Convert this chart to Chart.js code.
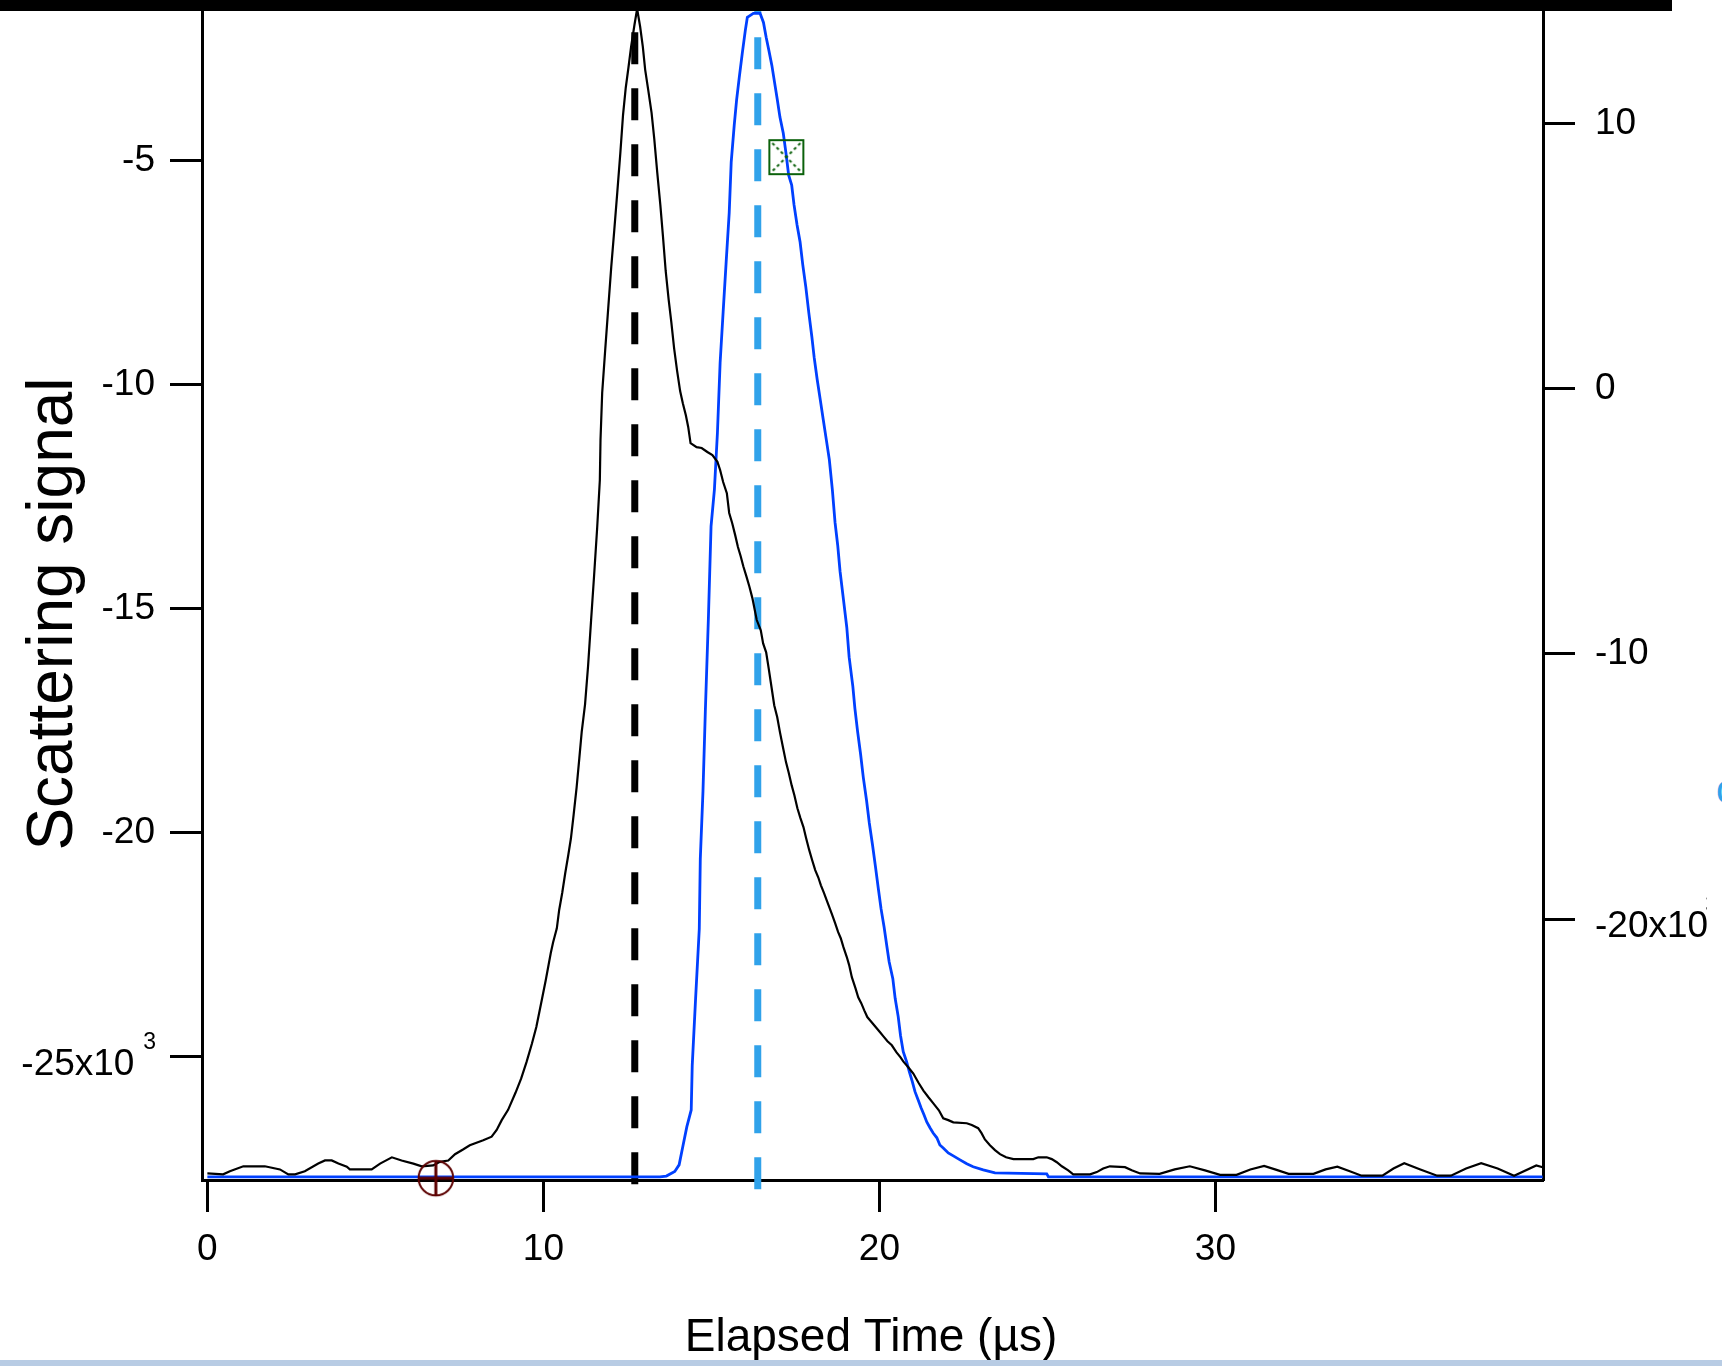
<!DOCTYPE html>
<html>
<head>
<meta charset="utf-8">
<title>Scattering signal</title>
<script src="https://cdn.jsdelivr.net/npm/chart.js@4.4.1/dist/chart.umd.min.js"></script>
<style>
  html, body { margin: 0; padding: 0; background: #fff; width: 1722px; height: 1366px; overflow: hidden; }
  #wrap { position: absolute; left: 0; top: 0; width: 1707px; height: 1360px; }
  #topbar { position: absolute; left: 0; top: 0; width: 1672px; height: 11px; background: #000; }
  #strip { position: absolute; left: 0; top: 1360px; width: 1722px; height: 6px; background: #b8cce4; }
  #edge { position: absolute; left: 1716px; top: 769px; font: 40px "Liberation Sans", Arial, sans-serif; line-height: 40px; color: #30a2ea; }
</style>
</head>
<body>
<div id="wrap"><canvas id="scatterChart" width="1707" height="1360"></canvas></div>
<div id="topbar"></div>
<div id="strip"></div>
<div id="edge">c</div>
<script>
// values, left axis in units of 10^3
const blackTime = [0, 0.47, 0.67, 1.07, 1.71, 2.16, 2.41, 2.61, 2.90, 3.30,
  3.50, 3.70, 3.90, 4.15, 4.24, 4.89, 5.14, 5.49, 5.78, 6.13,
  6.38, 6.72, 6.92, 7.17, 7.37, 7.62, 7.81, 8.21, 8.46, 8.61,
  8.76, 8.95, 9.17, 9.34, 9.50, 9.66, 9.79, 9.96, 10.07, 10.22,
  10.29, 10.40, 10.47, 10.56, 10.65, 10.74, 10.82, 10.90, 10.99, 11.07,
  11.14, 11.24, 11.33, 11.42, 11.51, 11.60, 11.68, 11.70, 11.75, 11.84,
  11.93, 12.02, 12.11, 12.20, 12.29, 12.37, 12.45, 12.53, 12.61, 12.71,
  12.79, 12.88, 12.96, 13.03, 13.12, 13.22, 13.30, 13.39, 13.48, 13.56,
  13.64, 13.73, 13.81, 13.89, 13.98, 14.07, 14.15, 14.24, 14.31, 14.38,
  14.56, 14.71, 14.88, 15.03, 15.18, 15.26, 15.35, 15.46, 15.53, 15.62,
  15.71, 15.79, 15.87, 15.95, 16.04, 16.13, 16.22, 16.35, 16.47, 16.54,
  16.63, 16.71, 16.79, 16.87, 16.96, 17.04, 17.13, 17.22, 17.30, 17.39,
  17.47, 17.56, 17.65, 17.74, 17.82, 17.91, 18.00, 18.09, 18.18, 18.26,
  18.35, 18.43, 18.52, 18.60, 18.68, 18.77, 18.85, 18.93, 19.03, 19.10,
  19.18, 19.29, 19.37, 19.46, 19.55, 19.64, 19.72, 19.82, 19.92, 20.02,
  20.12, 20.24, 20.37, 20.51, 20.63, 20.71, 20.86, 21.01, 21.16, 21.31,
  21.46, 21.60, 21.77, 21.90, 22.05, 22.20, 22.60, 22.75, 22.94, 23.04,
  23.14, 23.29, 23.44, 23.59, 23.77, 23.99, 24.58, 24.73, 24.98, 25.13,
  25.28, 25.43, 25.62, 25.77, 26.27, 26.47, 26.66, 26.86, 27.31, 27.51,
  27.76, 28.34, 28.79, 29.24, 29.69, 30.14, 30.63, 31.04, 31.45, 31.82,
  32.18, 32.92, 33.28, 33.63, 34.00, 34.35, 34.97, 35.30, 35.62, 36.10,
  36.60, 37.01, 37.46, 37.91, 38.40, 38.89, 39.55, 39.74];
const blackSignal = [-27.61, -27.63, -27.56, -27.45, -27.45, -27.52, -27.63, -27.63, -27.56, -27.39,
  -27.32, -27.32, -27.39, -27.46, -27.52, -27.52, -27.39, -27.25, -27.32, -27.39,
  -27.45, -27.43, -27.35, -27.32, -27.18, -27.07, -26.98, -26.87, -26.79, -26.64,
  -26.42, -26.19, -25.81, -25.49, -25.12, -24.71, -24.34, -23.71, -23.30, -22.69,
  -22.45, -22.14, -21.73, -21.35, -20.91, -20.51, -20.13, -19.61, -18.99, -18.34,
  -17.76, -17.14, -16.29, -15.26, -14.26, -13.21, -12.14, -11.24, -10.19, -9.23,
  -8.30, -7.38, -6.56, -5.71, -4.84, -3.99, -3.39, -2.94, -2.47, -1.98,
  -1.62, -2.02, -2.47, -2.98, -3.43, -3.94, -4.52, -5.28, -5.99, -6.71,
  -7.47, -8.12, -8.63, -9.19, -9.70, -10.15, -10.42, -10.69, -10.95, -11.31,
  -11.40, -11.42, -11.51, -11.58, -11.73, -11.91, -12.18, -12.43, -12.87, -13.10,
  -13.37, -13.63, -13.83, -14.06, -14.28, -14.51, -14.77, -15.26, -15.49, -15.78,
  -15.98, -16.36, -16.76, -17.16, -17.43, -17.76, -18.10, -18.43, -18.66, -18.95,
  -19.17, -19.46, -19.68, -19.88, -20.13, -20.39, -20.62, -20.84, -21.00, -21.18,
  -21.35, -21.51, -21.69, -21.85, -22.02, -22.22, -22.36, -22.56, -22.78, -22.96,
  -23.23, -23.48, -23.68, -23.81, -23.97, -24.12, -24.19, -24.28, -24.37, -24.46,
  -24.55, -24.66, -24.75, -24.91, -25.02, -25.11, -25.24, -25.38, -25.58, -25.76,
  -25.91, -26.04, -26.20, -26.38, -26.42, -26.47, -26.49, -26.53, -26.60, -26.71,
  -26.85, -26.98, -27.09, -27.18, -27.25, -27.29, -27.29, -27.25, -27.25, -27.29,
  -27.36, -27.45, -27.54, -27.63, -27.63, -27.58, -27.50, -27.45, -27.47, -27.54,
  -27.61, -27.62, -27.52, -27.45, -27.54, -27.64, -27.64, -27.52, -27.44, -27.53,
  -27.62, -27.62, -27.52, -27.46, -27.56, -27.66, -27.66, -27.50, -27.38, -27.52,
  -27.66, -27.66, -27.50, -27.38, -27.50, -27.66, -27.43, -27.47];

// right axis, units of 10^3
const blueTime = [0, 13.47, 13.66, 13.91, 14.04, 14.15, 14.27, 14.40, 14.43, 14.53,
  14.64, 14.67, 14.75, 14.82, 14.91, 14.99, 15.09, 15.18, 15.26, 15.35,
  15.44, 15.53, 15.59, 15.68, 15.75, 15.83, 15.92, 16.01, 16.07, 16.25,
  16.45, 16.55, 16.63, 16.71, 16.80, 16.88, 16.96, 17.04, 17.14, 17.22,
  17.30, 17.39, 17.46, 17.55, 17.64, 17.72, 17.81, 17.90, 17.99, 18.06,
  18.15, 18.24, 18.33, 18.42, 18.51, 18.60, 18.68, 18.76, 18.83, 18.93,
  19.03, 19.10, 19.21, 19.27, 19.35, 19.44, 19.52, 19.62, 19.70, 19.80,
  19.88, 19.97, 20.05, 20.14, 20.22, 20.29, 20.40, 20.47, 20.56, 20.63,
  20.71, 20.81, 20.89, 20.98, 21.06, 21.16, 21.24, 21.33, 21.41, 21.51,
  21.60, 21.71, 21.80, 21.90, 22.05, 22.20, 22.40, 22.60, 22.79, 23.09,
  23.44, 24.98, 25.03, 39.74];
const blueSignal = [-29.71, -29.71, -29.68, -29.51, -29.26, -28.57, -27.82, -27.19, -25.51, -22.99,
  -20.36, -17.73, -15.17, -12.16, -8.69, -5.19, -3.80, -1.66, 0.98, 2.90,
  4.78, 6.62, 8.54, 9.94, 10.88, 11.74, 12.65, 13.51, 14.00, 14.15,
  14.15, 13.81, 13.25, 12.76, 12.19, 11.55, 10.91, 10.24, 9.63, 8.88,
  8.05, 7.68, 6.93, 6.17, 5.53, 4.67, 3.84, 2.86, 1.96, 1.17,
  0.34, -0.41, -1.17, -1.92, -2.67, -3.80, -5.04, -5.91, -6.89, -7.94,
  -9.00, -10.12, -11.22, -12.04, -12.91, -13.77, -14.64, -15.54, -16.37, -17.24,
  -17.99, -18.86, -19.61, -20.29, -21.00, -21.60, -22.24, -22.99, -23.67, -24.39,
  -24.99, -25.37, -25.74, -26.12, -26.50, -26.83, -27.11, -27.38, -27.64, -27.87,
  -28.06, -28.24, -28.51, -28.62, -28.81, -28.92, -29.07, -29.22, -29.33, -29.45,
  -29.56, -29.60, -29.71, -29.71];

// cursors and markers
const blackCursor = [{ x: 12.72, y: -27.85 }, { x: 12.72, y: -1.0 }];
const blueCursor = [{ x: 16.38, y: -27.96 }, { x: 16.38, y: -1.0 }];
const roundMarker = [{ x: 6.80, y: -29.76 }];
const boxMarker = [{ x: 17.23, y: 8.73 }];

// axes
const xRange = [-0.16, 39.75];
const leftRange = [-27.756, -1.668];
const rightRange = [-29.83, 14.24];
const xTicks = [0, 10, 20, 30];
const leftTicks = [-5, -10, -15, -20, -25];
const leftTickLabels = ['-5', '-10', '-15', '-20', '-25x10'];
const rightTicks = [10, 0, -10, -20];
const rightTickLabels = ['10', '0', '-10', '-20x10'];
const tickExponent = '3';
const xTitle = 'Elapsed Time (\u00b5s)';
const yTitle = 'Scattering signal';

const FONT = '"Liberation Sans", Arial, sans-serif';
Chart.defaults.font.family = FONT;
Chart.defaults.color = '#000';

function makeRoundMarker() {
  const c = document.createElement('canvas');
  c.width = 40; c.height = 40;
  const g = c.getContext('2d');
  g.strokeStyle = '#5c0000';
  g.lineWidth = 2;
  g.beginPath(); g.arc(20, 20, 17.3, 0, Math.PI * 2); g.stroke();
  g.lineWidth = 3;
  g.beginPath(); g.moveTo(2, 20); g.lineTo(38, 20); g.moveTo(20, 2); g.lineTo(20, 38); g.stroke();
  return c;
}

function makeBoxMarker() {
  const c = document.createElement('canvas');
  c.width = 38; c.height = 38;
  const g = c.getContext('2d');
  g.strokeStyle = '#0b610b';
  g.lineWidth = 2;
  g.strokeRect(2, 2, 34, 34);
  g.setLineDash([3, 3]);
  g.beginPath(); g.moveTo(5, 5); g.lineTo(33, 33); g.moveTo(33, 5); g.lineTo(5, 33); g.stroke();
  return c;
}

const toPoints = (xs, ys) => xs.map((x, i) => ({ x, y: ys[i] }));

const axisGrid = { drawOnChartArea: false, drawTicks: true, tickLength: 32, tickWidth: 3, tickColor: '#000' };
const axisBorder = { display: true, color: '#000', width: 3 };

// fixed box sizes, no extra label padding around the plot area
function fixBox(size) {
  return s => {
    if (s.isHorizontal()) s.height = size; else s.width = size;
    s.paddingTop = 0; s.paddingBottom = 0; s.paddingLeft = 0; s.paddingRight = 0;
  };
}

const extraText = {
  id: 'extraText',
  afterDraw(chart) {
    const ctx = chart.ctx;
    const yl = chart.scales.yL;
    const yr = chart.scales.yR;
    ctx.save();
    ctx.fillStyle = '#000';

    ctx.font = '46px ' + FONT;
    ctx.textAlign = 'center';
    ctx.textBaseline = 'alphabetic';
    ctx.fillText(xTitle, 871, 1351);

    ctx.save();
    ctx.font = '64px ' + FONT;
    ctx.translate(72, 614);
    ctx.rotate(-Math.PI / 2);
    ctx.fillText(yTitle, 0, 0);
    ctx.restore();

    ctx.font = '23px ' + FONT;
    ctx.textAlign = 'right';
    ctx.fillText(tickExponent, yl.right - 32 - 15 + 1, yl.getPixelForValue(-25) - 8);

    ctx.font = '37px ' + FONT;
    const w = ctx.measureText(rightTickLabels[3]).width;
    ctx.font = '23px ' + FONT;
    ctx.textAlign = 'left';
    ctx.fillText(tickExponent, yr.left + 32 + 20 + w - 3, yr.getPixelForValue(-20) - 7);
    ctx.restore();
  }
};

new Chart(document.getElementById('scatterChart'), {
  type: 'line',
  data: {
    datasets: [
      {
        data: roundMarker, yAxisID: 'yR', showLine: false, order: 0, clip: false,
        pointStyle: makeRoundMarker(), pointRadius: 18
      },
      {
        data: boxMarker, yAxisID: 'yR', showLine: false, order: 0, clip: false,
        pointStyle: makeBoxMarker(), pointRadius: 18
      },
      {
        data: toPoints(blackTime, blackSignal), yAxisID: 'yL', order: 1,
        borderColor: '#000', borderWidth: 2.2, pointRadius: 0, tension: 0
      },
      {
        data: toPoints(blueTime, blueSignal), yAxisID: 'yR', order: 2,
        borderColor: '#0040ff', borderWidth: 2.8, pointRadius: 0, tension: 0
      },
      {
        data: blackCursor, yAxisID: 'yL', order: 3,
        borderColor: '#000', borderWidth: 7, borderDash: [32, 24], pointRadius: 0,
        clip: { left: 10, top: 0, right: 10, bottom: 12 }
      },
      {
        data: blueCursor, yAxisID: 'yL', order: 4,
        borderColor: '#30a2ea', borderWidth: 7, borderDash: [32, 24], pointRadius: 0,
        clip: { left: 10, top: 0, right: 10, bottom: 12 }
      }
    ]
  },
  options: {
    responsive: false,
    animation: false,
    layout: { autoPadding: false, padding: { top: 11, left: 0, right: 0, bottom: 0 } },
    plugins: { legend: { display: false }, tooltip: { enabled: false } },
    scales: {
      x: {
        type: 'linear', position: 'bottom', min: xRange[0], max: xRange[1],
        grid: axisGrid, border: axisBorder,
        afterBuildTicks: s => { s.ticks = xTicks.map(value => ({ value })); },
        afterFit: fixBox(180),
        ticks: { font: { size: 37 }, padding: 16, maxRotation: 0, autoSkip: false, callback: v => String(v) }
      },
      yL: {
        type: 'linear', position: 'left', min: leftRange[0], max: leftRange[1],
        grid: axisGrid, border: axisBorder,
        afterBuildTicks: s => { s.ticks = leftTicks.map(value => ({ value })); },
        afterFit: fixBox(202),
        ticks: {
          font: { size: 37, lineHeight: '16px' }, padding: 15, autoSkip: false,
          callback: v => {
            const label = leftTickLabels[leftTicks.indexOf(v)];
            return label.includes('x10') ? ['', label + '  '] : label;
          }
        }
      },
      yR: {
        type: 'linear', position: 'right', min: rightRange[0], max: rightRange[1],
        grid: axisGrid, border: axisBorder,
        afterBuildTicks: s => { s.ticks = rightTicks.map(value => ({ value })); },
        afterFit: fixBox(164),
        ticks: {
          font: { size: 37, lineHeight: '16px' }, padding: 20, autoSkip: false,
          callback: v => {
            const label = rightTickLabels[rightTicks.indexOf(v)];
            return label.includes('x10') ? ['', label] : label;
          }
        }
      }
    }
  },
  plugins: [extraText]
});
</script>
</body>
</html>
